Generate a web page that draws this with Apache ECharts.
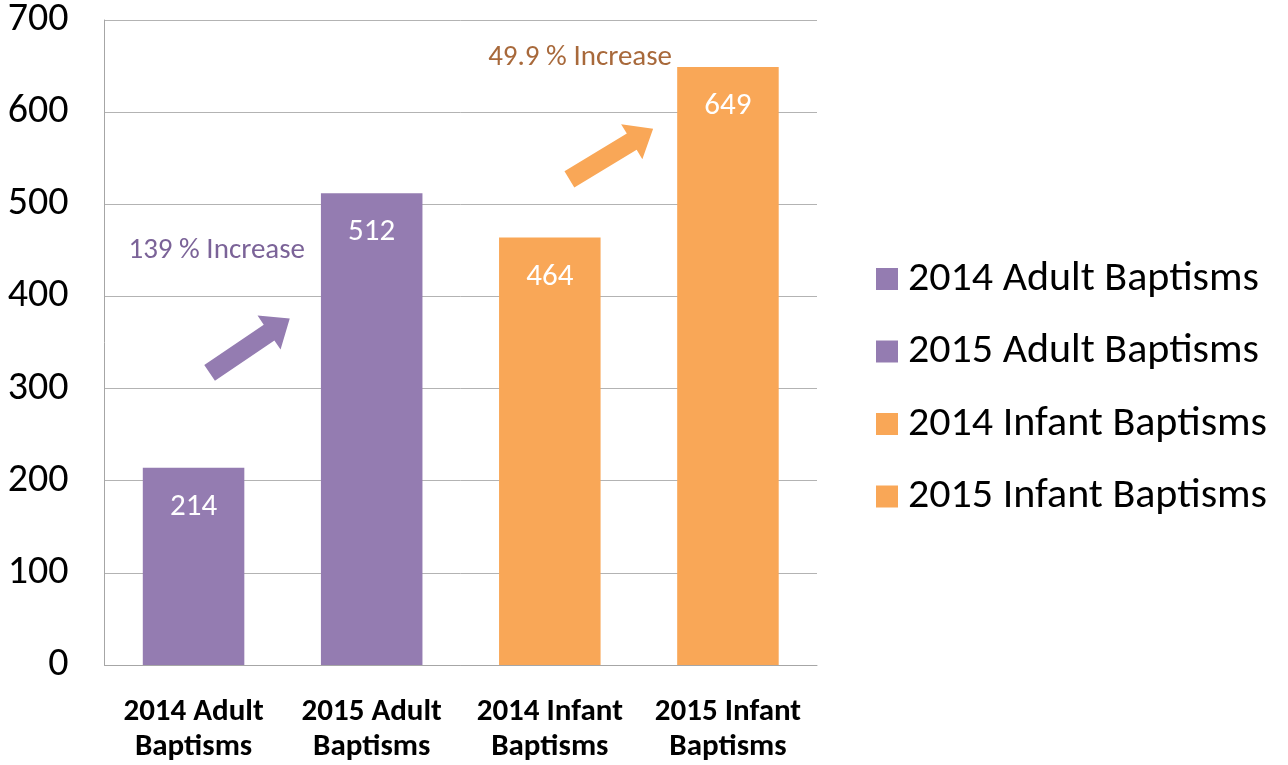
<!DOCTYPE html>
<html>
<head>
<meta charset="utf-8">
<script src="https://cdn.jsdelivr.net/npm/echarts@6/dist/echarts.min.js"></script>
<style>
  html, body { margin: 0; padding: 0; background: #fff; }
  #main { width: 1288px; height: 765px; }
</style>
</head>
<body>
<div id="main"></div>
<script>
// data
var categories = ['2014 Adult\nBaptisms', '2015 Adult\nBaptisms', '2014 Infant\nBaptisms', '2015 Infant\nBaptisms'];
var seriesNames = ['2014 Adult Baptisms', '2015 Adult Baptisms', '2014 Infant Baptisms', '2015 Infant Baptisms'];
var values = [214, 512, 464, 649];
var yTicks = [0, 700, 100]; // min, max, step

// annotation arrows: [from category-offset, value] -> [to ...]
var arrowPurple = [[0.09, 317], [0.54, 376]];
var arrowOrange = [[2.11, 527], [2.58, 582]];
var notePurple = { text: '139 % Increase', at: [0.13, 450] };
var noteOrange = { text: '49.9 % Increase', at: [2.17, 659] };

var purple = '#947cb1', orange = '#f9a757';
var colors = [purple, purple, orange, orange];
var FONT = 'Carlito, Lato, sans-serif';

var chart = echarts.init(document.getElementById('main'));

var series = seriesNames.map(function (name, i) {
  var d = values.map(function (v, j) { return j === i ? v : '-'; });
  return {
    name: name,
    type: 'bar',
    stack: 'all',
    barWidth: '57%',
    data: d,
    itemStyle: { color: colors[i] },
    label: {
      show: true,
      position: 'insideTop',
      distance: 24,
      color: '#fff',
      fontFamily: FONT,
      fontSize: 31
    }
  };
});

chart.setOption({
  animation: false,
  backgroundColor: '#fff',
  grid: { left: 104.5, right: 471, top: 19, bottom: 99 },
  legend: {
    orient: 'vertical',
    left: 871,
    top: 253,
    itemWidth: 22,
    itemHeight: 22,
    itemGap: 30.5,
    icon: 'rect',
    textStyle: {
      fontFamily: FONT,
      fontSize: 42,
      color: '#000',
      lineHeight: 42,
      padding: [0, 0, 0, 5]
    },
    data: seriesNames
  },
  xAxis: {
    type: 'category',
    data: categories,
    axisLine: { lineStyle: { color: '#a6a6a6', width: 1 } },
    axisTick: { show: false },
    axisLabel: {
      interval: 0,
      hideOverlap: false,
      color: '#000',
      fontFamily: FONT,
      fontWeight: 'bold',
      fontSize: 31,
      lineHeight: 35,
      margin: 30
    }
  },
  yAxis: {
    type: 'value',
    min: yTicks[0],
    max: yTicks[1],
    interval: yTicks[2],
    axisLine: { show: true, lineStyle: { color: '#a6a6a6' } },
    axisTick: { show: false },
    splitLine: { lineStyle: { color: '#b3b3b3', width: 1 } },
    axisLabel: {
      color: '#000',
      fontFamily: FONT,
      fontSize: 40,
      margin: 36,
      padding: [6, 0, 0, 0]
    }
  },
  series: series
});

// helpers to place annotations in data space
function toPx(pt) {
  var c0 = chart.convertToPixel({ xAxisIndex: 0 }, categories[0]);
  var c1 = chart.convertToPixel({ xAxisIndex: 0 }, categories[1]);
  var y = chart.convertToPixel({ yAxisIndex: 0 }, pt[1]);
  return [c0 + pt[0] * (c1 - c0), y];
}

function arrowPoints(a) {
  var t = toPx(a[0]), p = toPx(a[1]);
  var dx = p[0] - t[0], dy = p[1] - t[1];
  var len = Math.sqrt(dx * dx + dy * dy);
  dx /= len; dy /= len;
  var nx = -dy, ny = dx;
  var w = 9.5, h = 20.5, hl = 25;
  var b = [p[0] - dx * hl, p[1] - dy * hl];
  return [
    [t[0] + nx * w, t[1] + ny * w],
    [b[0] + nx * w, b[1] + ny * w],
    [b[0] + nx * h, b[1] + ny * h],
    p,
    [b[0] - nx * h, b[1] - ny * h],
    [b[0] - nx * w, b[1] - ny * w],
    [t[0] - nx * w, t[1] - ny * w]
  ];
}

function note(n, color) {
  var p = toPx(n.at);
  return {
    type: 'text',
    x: p[0], y: p[1],
    style: {
      text: n.text,
      fill: color,
      font: '29px ' + FONT,
      textAlign: 'center',
      textVerticalAlign: 'middle'
    }
  };
}

chart.setOption({
  graphic: [
    { type: 'polygon', shape: { points: arrowPoints(arrowPurple) }, style: { fill: purple } },
    { type: 'polygon', shape: { points: arrowPoints(arrowOrange) }, style: { fill: orange } },
    note(notePurple, '#7b6398'),
    note(noteOrange, '#a8693b')
  ]
});
</script>
</body>
</html>
